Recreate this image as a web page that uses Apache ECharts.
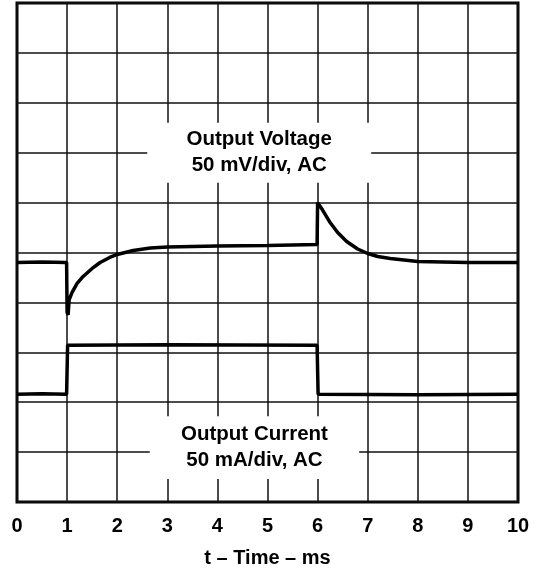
<!DOCTYPE html>
<html>
<head>
<meta charset="utf-8">
<script src="https://cdn.jsdelivr.net/npm/echarts@6/dist/echarts.min.js"></script>
<style>html,body{margin:0;padding:0;background:#fff}#c{width:543px;height:573px}</style>
</head>
<body>
<div id="c"></div>
<script>
// ---- data (x in ms, y in screen divisions, 0 = bottom gridline) ----
const xTicks = [0,1,2,3,4,5,6,7,8,9,10];
const voltageT = [0, 0.5, 0.99, 1.0, 1.02, 1.04, 1.1, 1.2, 1.32, 1.5, 1.66, 1.85, 2.0, 2.32, 2.66, 3.0, 3.5, 4.0, 5.0, 5.99, 6.0, 6.02, 6.1, 6.25, 6.4, 6.58, 6.8, 7.0, 7.2, 7.45, 8.0, 9.0, 10.0];
const voltageV = [4.8, 4.81, 4.8, 3.8, 3.75, 4.05, 4.2, 4.38, 4.52, 4.68, 4.8, 4.9, 4.96, 5.04, 5.09, 5.11, 5.12, 5.13, 5.14, 5.16, 6.0, 6.02, 5.85, 5.6, 5.4, 5.22, 5.07, 4.98, 4.92, 4.88, 4.82, 4.8, 4.8];
const currentT = [0, 0.5, 0.99, 1.01, 3.0, 5.99, 6.01, 8.0, 10.0];
const currentV = [2.16, 2.17, 2.16, 3.14, 3.15, 3.14, 2.16, 2.15, 2.16];
const voltageLabel = 'Output Voltage\n50 mV/div, AC';
const currentLabel = 'Output Current\n50 mA/div, AC';
const xTitle = 't \u2013 Time \u2013 ms';

const zip = (a, b) => a.map((v, i) => [v, b[i]]);
const FONT = '"Liberation Sans", Arial, sans-serif';

const chart = echarts.init(document.getElementById('c'), null, {renderer: 'canvas'});
chart.setOption({
  animation: false,
  backgroundColor: '#fff',
  grid: {left: 17, right: 25, top: 3, bottom: 70, show: true, borderColor: '#000', borderWidth: 3, backgroundColor: 'transparent'},
  xAxis: {
    type: 'value', min: 0, max: 10, interval: 1,
    axisLine: {show: false}, axisTick: {show: false},
    splitLine: {show: true, lineStyle: {color: '#111', width: 1.5}},
    axisLabel: {color: '#000', fontWeight: 'bold', fontSize: 20, fontFamily: FONT, margin: 14,
      formatter: v => xTicks.includes(v) ? String(v) : ''},
    name: xTitle, nameLocation: 'middle', nameGap: 46,
    nameTextStyle: {color: '#000', fontWeight: 'bold', fontSize: 20, fontFamily: FONT}
  },
  yAxis: {
    type: 'value', min: 0, max: 10, interval: 1,
    axisLine: {show: false}, axisTick: {show: false}, axisLabel: {show: false},
    splitLine: {show: true, lineStyle: {color: '#111', width: 1.5}}
  },
  series: [
    {
      type: 'line', data: zip(voltageT, voltageV), showSymbol: false, symbol: 'none',
      lineStyle: {color: '#000', width: 3.5}, z: 5,
      markArea: {
        silent: true,
        itemStyle: {color: '#fff'},
        label: {show: true, position: 'inside', color: '#000', fontWeight: 'bold', fontSize: 20.5, lineHeight: 26, fontFamily: FONT},
        data: [
          [{coord: [2.6, 7.6], name: voltageLabel}, {coord: [7.07, 6.4]}],
          [{coord: [2.65, 1.72], name: currentLabel}, {coord: [6.83, 0.46]}]
        ]
      }
    },
    {
      type: 'line', data: zip(currentT, currentV), showSymbol: false, symbol: 'none',
      lineStyle: {color: '#000', width: 3.5}, z: 5
    }
  ]
});
</script>
</body>
</html>
